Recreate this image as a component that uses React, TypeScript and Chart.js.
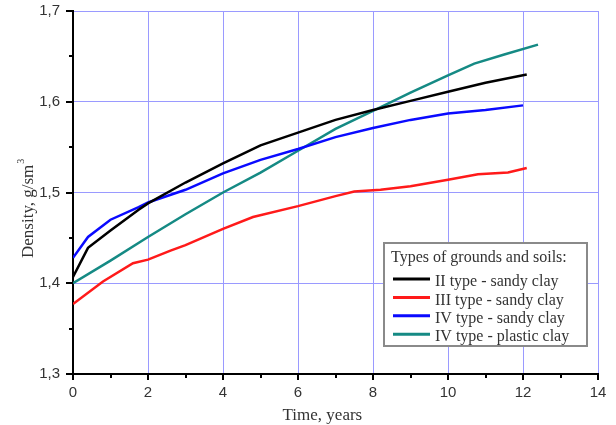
import React, { useEffect, useRef } from "react";
import { Chart, registerables } from "chart.js";
Chart.register(...registerables);

// Data (time in years, density g/sm3)
const type2X = [0, 0.4, 1, 1.75, 2, 3, 4, 5, 6, 7, 8, 9, 10, 11, 12.1];
const type2Y = [1.407, 1.439, 1.458, 1.481, 1.488, 1.511, 1.532, 1.552, 1.566, 1.58, 1.591, 1.601, 1.611, 1.621, 1.63];

const type3X = [0, 0.8, 1.6, 2, 2.6, 3, 4, 4.8, 6, 7, 7.5, 8.2, 9, 10, 10.8, 11.6, 12.1];
const type3Y = [1.377, 1.402, 1.422, 1.426, 1.436, 1.442, 1.46, 1.473, 1.485, 1.496, 1.501, 1.503, 1.507, 1.514, 1.52, 1.522, 1.527];

const type4sX = [0, 0.4, 1, 1.75, 2, 3, 4, 5, 6, 7, 8, 9, 10, 11, 12];
const type4sY = [1.428, 1.451, 1.47, 1.484, 1.489, 1.503, 1.521, 1.536, 1.548, 1.561, 1.571, 1.58, 1.587, 1.591, 1.596];

const type4pX = [0, 1, 2, 3, 4, 5, 6, 7, 8, 9, 10, 10.7, 11.5, 12.4];
const type4pY = [1.4, 1.425, 1.451, 1.476, 1.5, 1.522, 1.546, 1.57, 1.59, 1.61, 1.629, 1.642, 1.652, 1.663];

const seriesLabels = ["II type - sandy clay", "III type - sandy clay", "IV type - sandy clay", "IV type - plastic clay"];
const seriesColors = ["#000000", "#ff1a1a", "#0a0aff", "#158a84"];
const legendTitle = "Types of grounds and soils:";
const xTitle = "Time, years";
const yTitle = "Density, g/sm";
const yTitleSup = "3";

const pts = (xs: number[], ys: number[]) => xs.map((x, i) => ({ x, y: ys[i] }));

const axisDecor = {
  id: "axisDecor",
  afterDraw(chart: any) {
    const { ctx, chartArea, scales } = chart;
    const xs = scales.x, ys = scales.y;
    ctx.save();
    ctx.strokeStyle = "#000";
    ctx.lineWidth = 2;
    for (let i = 0; i <= 14; i++) {
      const px = Math.round(xs.getPixelForValue(i));
      const len = i % 2 === 0 ? 6 : 4;
      ctx.beginPath();
      ctx.moveTo(px, chartArea.bottom);
      ctx.lineTo(px, chartArea.bottom + len);
      ctx.stroke();
    }
    for (let i = 0; i <= 8; i++) {
      const v = 1.3 + i * 0.05;
      const py = Math.round(ys.getPixelForValue(v));
      const len = i % 2 === 0 ? 7 : 4;
      ctx.beginPath();
      ctx.moveTo(chartArea.left, py);
      ctx.lineTo(chartArea.left - len, py);
      ctx.stroke();
    }
    // axis titles
    ctx.fillStyle = "#333";
    ctx.font = "17px 'Liberation Serif'";
    ctx.textAlign = "center";
    ctx.textBaseline = "alphabetic";
    ctx.fillText(xTitle, xs.getPixelForValue(6.65), 420);
    ctx.translate(33, ys.getPixelForValue(1.482));
    ctx.rotate(-Math.PI / 2);
    const w = ctx.measureText(yTitle).width;
    ctx.font = "10px 'Liberation Serif'";
    const ws = ctx.measureText(yTitleSup).width;
    ctx.font = "17px 'Liberation Serif'";
    ctx.textAlign = "left";
    const start = -(w + ws) / 2;
    ctx.fillText(yTitle, start, 0);
    ctx.font = "10px 'Liberation Serif'";
    ctx.fillText(yTitleSup, start + w + 1, -9);
    ctx.restore();
  },
};

const boxLegend = {
  id: "boxLegend",
  afterDraw(chart: any) {
    const { ctx } = chart;
    const x0 = 384, y0 = 243, w = 203, h = 103;
    ctx.save();
    ctx.fillStyle = "#ffffff";
    ctx.fillRect(x0, y0, w, h);
    ctx.strokeStyle = "#8a8a8a";
    ctx.lineWidth = 2;
    ctx.strokeRect(x0, y0, w, h);
    ctx.font = "16px 'Liberation Serif'";
    ctx.fillStyle = "#333";
    ctx.textBaseline = "middle";
    ctx.textAlign = "left";
    ctx.fillText(legendTitle, x0 + 7, y0 + 15);
    chart.data.datasets.forEach((ds: any, i: number) => {
      const yy = y0 + 39 + i * 18.4;
      ctx.strokeStyle = ds.borderColor;
      ctx.lineWidth = 3;
      ctx.beginPath();
      ctx.moveTo(x0 + 9, yy - 3);
      ctx.lineTo(x0 + 46, yy - 3);
      ctx.stroke();
      ctx.fillStyle = "#333";
      ctx.fillText(ds.label, x0 + 51, yy);
    });
    ctx.restore();
  },
};

export default function App() {
  const ref = useRef<HTMLCanvasElement>(null);
  useEffect(() => {
    if (!ref.current) return;
    const grid = "#9a9aff";
    const chart = new Chart(ref.current, {
      type: "line",
      data: {
        datasets: [
          { label: seriesLabels[0], data: pts(type2X, type2Y), borderColor: seriesColors[0] },
          { label: seriesLabels[1], data: pts(type3X, type3Y), borderColor: seriesColors[1] },
          { label: seriesLabels[2], data: pts(type4sX, type4sY), borderColor: seriesColors[2] },
          { label: seriesLabels[3], data: pts(type4pX, type4pY), borderColor: seriesColors[3] },
        ].map((d) => ({ ...d, borderWidth: 2.5, pointRadius: 0, fill: false, tension: 0 })),
      },
      options: {
        animation: false,
        responsive: false,
        layout: { padding: { left: 0, top: 11, right: 18, bottom: 0 } },
        plugins: { legend: { display: false }, tooltip: { enabled: false } },
        scales: {
          x: {
            type: "linear",
            min: 0,
            max: 14,
            afterFit: (s: any) => { s.height = 51; s.paddingLeft = 0; s.paddingRight = 0; },
            ticks: { stepSize: 2, padding: 10, color: "#333", font: { family: "'Liberation Sans'", size: 15 } },
            grid: {
              drawTicks: false,
              color: (c: any) => (c.tick && c.tick.value === 0 ? "rgba(0,0,0,0)" : grid),
              lineWidth: 1,
            },
            border: { display: true, color: "#000", width: 2 },
            title: { display: false },
          },
          y: {
            min: 1.3,
            max: 1.7,
            afterFit: (s: any) => { s.width = 73; s.paddingTop = 0; s.paddingBottom = 0; },
            ticks: {
              stepSize: 0.1,
              padding: 13,
              color: "#333",
              font: { family: "'Liberation Sans'", size: 15 },
              callback: (v: any) => Number(v).toFixed(1).replace(".", ","),
            },
            grid: {
              drawTicks: false,
              color: (c: any) => (c.tick && Math.abs(c.tick.value - 1.3) < 1e-6 ? "rgba(0,0,0,0)" : grid),
              lineWidth: 1,
            },
            border: { display: true, color: "#000", width: 2 },
            title: { display: false },
          },
        },
      },
      plugins: [axisDecor, boxLegend],
    } as any);
    return () => chart.destroy();
  }, []);
  return (
    <div style={{ position: "absolute", left: 0, top: 0, width: 616, height: 425, background: "#fff" }}>
      <canvas ref={ref} width={616} height={425} />
    </div>
  );
}
